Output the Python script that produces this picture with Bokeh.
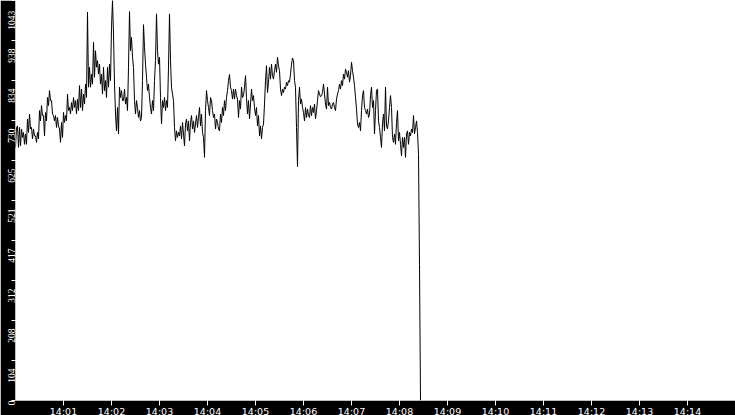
from datetime import datetime, timedelta
from math import pi

from bokeh.plotting import figure
from bokeh.models import Range1d, FixedTicker, LinearAxis
from bokeh.embed import file_html
from bokeh.resources import INLINE

# ---- data -------------------------------------------------------------
START = datetime(2024, 1, 1, 14, 0, 0)
STEP_SECONDS = 1.25
WINDOW_MINUTES = 15

VALUES = [
    660, 712, 716, 660, 712, 664, 708, 686, 699, 668, 695, 668, 734, 699, 747, 708,
    712, 682, 708, 690, 690, 673, 699, 682, 756, 729, 769, 743, 743, 690, 751, 729,
    790, 769, 808, 782, 782, 747, 743, 729, 743, 712, 738, 716, 708, 673, 725, 686,
    751, 725, 743, 729, 799, 756, 764, 747, 777, 756, 790, 764, 782, 747, 786, 756,
    821, 764, 812, 756, 799, 773, 825, 790, 1013, 817, 869, 817, 851, 825, 934, 843,
    912, 869, 886, 851, 877, 825, 851, 799, 869, 808, 834, 790, 869, 817, 877, 834,
    973, 1043, 956, 825, 747, 703, 764, 695,
    817, 790, 808, 782, 782, 812, 773, 790, 756, 869,
    1014, 912, 947, 895, 869, 782, 747, 782, 764, 738,
    756, 729, 738, 834, 980, 921, 877, 843, 808, 825,
    790, 764, 747, 782, 756, 834, 886, 1008, 912, 877,
    895, 790, 721, 782, 764, 790, 756, 782, 764, 869,
    1008, 886, 817, 799, 782, 712, 677, 703, 686, 699,
    690, 716, 682, 725, 695, 664, 721, 734, 703, 729,
    677, 725, 743, 708, 729, 699, 721, 743, 712, 738,
    764, 716, 747, 699, 686, 634, 756, 808, 782, 764,
    743, 790, 782, 756, 738, 747, 708, 734, 725, 708,
    703, 747, 725, 764, 743, 782, 756, 790, 808, 834,
    850, 817, 808, 786, 812, 786, 812, 795, 786, 738,
    782, 760, 817, 790, 795, 817, 847, 790, 747, 782,
    734, 773, 812, 782, 795, 764, 743, 764, 716, 743,
    690, 716, 682, 712, 721, 773, 834, 873, 803, 830,
    869, 838, 877, 847, 838, 860, 877, 856, 895, 873,
    860, 812, 795, 812, 803, 817, 812, 830, 821, 834,
    830, 851, 877, 893, 886, 834, 817, 712, 610, 782,
    817, 773, 786, 764, 751, 729, 764, 738, 760, 743,
    738, 769, 743, 764, 751, 773, 734, 756, 782, 808,
    799, 792,
    795, 803, 825, 799, 773, 760, 817, 769, 777, 764,
    760, 773, 777, 764, 756, 786, 799, 808, 825, 812,
    834, 821, 851, 838, 864, 856, 843, 860, 830, 847,
    882, 860, 843, 821, 790, 760, 721, 712, 725, 703,
    756, 795, 808, 764, 756, 747, 760, 738, 747, 795,
    817, 764, 782, 695, 756, 808, 812, 729, 712, 686,
    660, 721, 747, 703, 817, 716, 708, 729, 764, 795,
    764, 686, 673, 695, 668, 725, 756, 677, 699, 668,
    638, 686, 660, 686, 634, 695, 703, 668, 699, 690,
    708, 699, 743, 695, 712, 729, 699, 642,
    355, 0,
]

Y_MAX = 1043
Y_TICK_LABELS = ["0", "104", "208", "312", "417", "521", "625", "730", "834", "938", "1043"]
X_TICK_LABELS = ["14:01", "14:02", "14:03", "14:04", "14:05", "14:06", "14:07",
                 "14:08", "14:09", "14:10", "14:11", "14:12", "14:13", "14:14"]

# ---- derived ----------------------------------------------------------
times = [START + timedelta(seconds=STEP_SECONDS * i) for i in range(len(VALUES))]
y_ticks = [Y_MAX * i / (len(Y_TICK_LABELS) - 1) for i in range(len(Y_TICK_LABELS))]
EPOCH = datetime(1970, 1, 1)
x_ticks_ms = [((START + timedelta(minutes=i + 1)) - EPOCH).total_seconds() * 1000.0
              for i in range(len(X_TICK_LABELS))]

FRAME_W, FRAME_H = 720, 400
PX = Y_MAX / FRAME_H  # data units per pixel
# rotated y labels end at their tick and run downwards: centre each label
# about half its length below the tick (kept inside the axis span)
y_label_pos = [max(t - (1.5 + 2.2 * len(s)) * PX, 0.0) for t, s in zip(y_ticks, Y_TICK_LABELS)]

# ---- figure -----------------------------------------------------------
p = figure(
    frame_width=FRAME_W, frame_height=FRAME_H,
    x_axis_type="datetime",
    x_range=Range1d(START, START + timedelta(minutes=WINDOW_MINUTES)),
    y_range=Range1d(0, Y_MAX),
    output_backend="svg",
    toolbar_location=None,
    min_border=0,
)
p.min_border_left = 15
p.min_border_bottom = 15
p.min_border_top = 0
p.min_border_right = 0
p.border_fill_color = "black"
p.background_fill_color = "white"
p.outline_line_color = None
p.xgrid.visible = False
p.ygrid.visible = False

p.line(times, VALUES, line_color="black", line_width=1)

# bottom axis: white ticks and labels in the black strip
xa = p.xaxis[0]
xa.ticker = FixedTicker(ticks=x_ticks_ms)
xa.major_label_overrides = {t: s for t, s in zip(x_ticks_ms, X_TICK_LABELS)}
xa.axis_line_color = None
xa.major_tick_line_color = "white"
xa.minor_tick_line_color = None
xa.major_tick_in = 0
xa.major_tick_out = 5
xa.major_label_standoff = 0
xa.major_label_text_color = "white"
xa.major_label_text_font = "DejaVu Sans"
xa.major_label_text_font_size = "9.5px"

# left axis: ticks only
ya = p.yaxis[0]
ya.ticker = FixedTicker(ticks=y_ticks)
ya.major_label_overrides = {t: "" for t in y_ticks}
ya.axis_line_color = None
ya.major_tick_line_color = "white"
ya.minor_tick_line_color = None
ya.major_tick_in = 0
ya.major_tick_out = 4
ya.major_label_standoff = 0

# second left axis: the rotated labels, placed just below each tick
yl = LinearAxis(ticker=FixedTicker(ticks=y_label_pos))
yl.major_label_overrides = {t: s for t, s in zip(y_label_pos, Y_TICK_LABELS)}
yl.major_label_orientation = pi / 2
yl.axis_line_color = None
yl.major_tick_line_color = None
yl.minor_tick_line_color = None
yl.major_tick_in = 0
yl.major_tick_out = 0
yl.major_label_standoff = 0
yl.major_label_text_color = "white"
yl.major_label_text_font = "Liberation Sans Narrow"
yl.major_label_text_font_size = "9.5px"
p.add_layout(yl, "left")

html = file_html(p, INLINE, title="chart")
html = html.replace("<head>", "<head><style>html,body{margin:0;padding:0;overflow:hidden;}</style>", 1)
open("out.html", "w").write(html)
